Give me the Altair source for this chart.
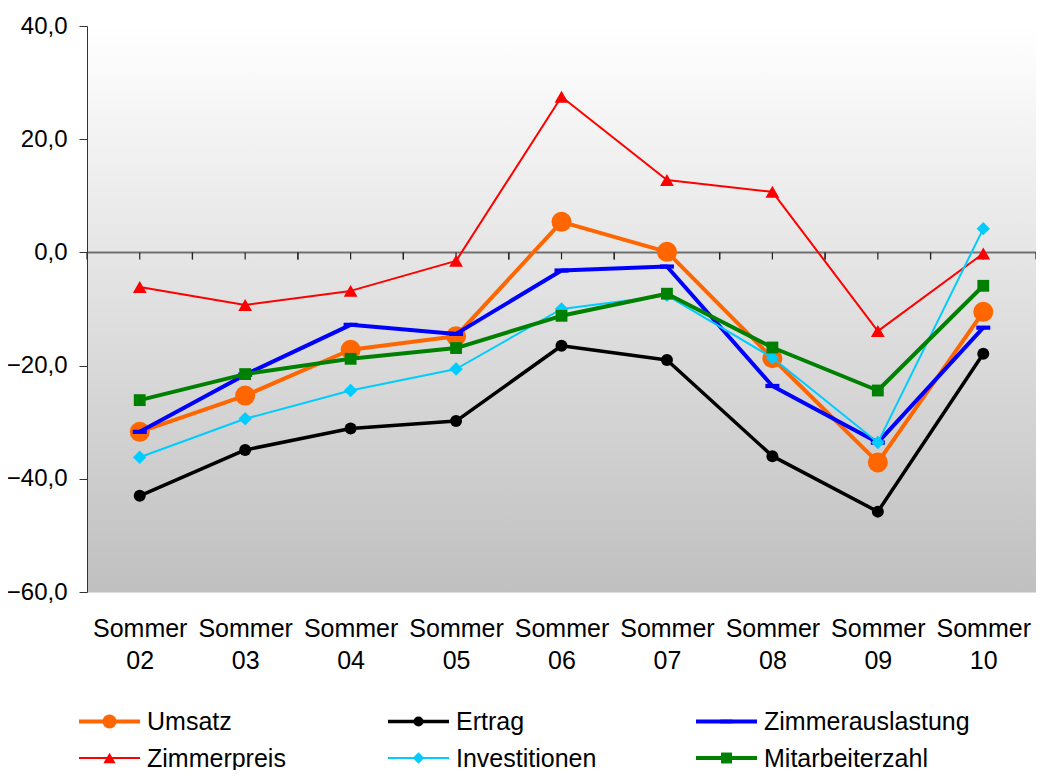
import altair as alt
import pandas as pd

categories = ["Sommer 02", "Sommer 03", "Sommer 04", "Sommer 05", "Sommer 06",
              "Sommer 07", "Sommer 08", "Sommer 09", "Sommer 10"]

series_names = ["Umsatz", "Ertrag", "Zimmerauslastung",
                "Zimmerpreis", "Investitionen", "Mitarbeiterzahl"]

umsatz = [-31.7, -25.3, -17.2, -14.8, 5.4, 0.1, -18.7, -37.1, -10.5]
ertrag = [-43.0, -34.9, -31.1, -29.8, -16.5, -19.0, -36.0, -45.8, -17.9]
zimmerauslastung = [-31.7, -21.6, -12.8, -14.4, -3.2, -2.5, -23.6, -33.6, -13.3]
zimmerpreis = [-6.1, -9.3, -6.8, -1.5, 27.5, 12.8, 10.7, -13.9, -0.2]
investitionen = [-36.2, -29.4, -24.4, -20.6, -10.0, -7.6, -18.6, -33.6, 4.2]
mitarbeiterzahl = [-26.1, -21.5, -18.8, -16.9, -11.2, -7.3, -16.8, -24.4, -5.9]

y_ticks = [-60, -40, -20, 0, 20, 40]

series_values = [umsatz, ertrag, zimmerauslastung, zimmerpreis, investitionen, mitarbeiterzahl]

W, H = 949, 566
Y_MIN, Y_MAX = -60, 40
FONT = "Liberation Sans"
DASH = "M-1,-0.3L1,-0.3L1,0.3L-1,0.3Z"

styles = {
    "Umsatz": dict(color="#FF6600", sw=4, shape="circle", size=400, lsize=196),
    "Ertrag": dict(color="#000000", sw=3.5, shape="circle", size=144, lsize=100),
    "Zimmerauslastung": dict(color="#0000FF", sw=4, shape=DASH, size=196, lsize=150),
    "Zimmerpreis": dict(color="#FF0000", sw=2, shape="triangle-up", size=190, lsize=150),
    "Investitionen": dict(color="#00CCFF", sw=2, shape="diamond", size=180, lsize=130),
    "Mitarbeiterzahl": dict(color="#008000", sw=4, shape="square", size=140, lsize=120),
}

x_axis = alt.Axis(title=None, domain=False, ticks=False, tickSize=0,
                  labelExpr="split(datum.label, ' ')", labelFont=FONT,
                  labelFontSize=25, labelColor="#000", labelPadding=24,
                  labelLineHeight=32, labelBaseline="top", labelAngle=0)
y_axis = alt.Axis(title=None, values=y_ticks, grid=False,
                  labelExpr="replace(format(datum.value, '.1f'), '.', ',')",
                  labelFont=FONT, labelFontSize=24, labelColor="#000",
                  tickSize=8, tickColor="#333", domainColor="#333",
                  labelPadding=12, zindex=1)

x_enc = alt.X("cat:N", sort=categories,
              scale=alt.Scale(type="point", padding=0.5), axis=x_axis)
y_scale = alt.Scale(domain=[Y_MIN, Y_MAX], nice=False, zero=False)
y_enc = alt.Y("val:Q", scale=y_scale, axis=y_axis)

one = pd.DataFrame({"a": [0]})

background = alt.Chart(one).mark_rect(
    fill=alt.LinearGradient(
        gradient="linear",
        stops=[alt.GradientStop(color="#ffffff", offset=0),
               alt.GradientStop(color="#c0c0c0", offset=1)],
        x1=0, x2=0, y1=0, y2=1),
).encode(x=alt.value(0), x2=alt.value(W), y=alt.value(0), y2=alt.value(H))

zero_df = pd.DataFrame({"val": [0]})
zero_line = alt.Chart(zero_df).mark_rule(color="#707070", strokeWidth=2).encode(
    y=y_enc, x=alt.value(0), x2=alt.value(W))

# small category tick marks hanging below the zero line (7 px long)
tick_len_units = 7 / H * (Y_MAX - Y_MIN)
tick_df = pd.DataFrame({"cat": categories,
                        "val": [0] * len(categories),
                        "val2": [-tick_len_units] * len(categories)})
half = W / len(categories) / 2
tick_layers = []
for off in (0, -half, half):
    tick_layers.append(
        alt.Chart(tick_df).mark_rule(color="#222", strokeWidth=1.2, xOffset=off)
        .encode(x=x_enc, y=y_enc, y2="val2:Q"))

series_layers = []
for name, vals in zip(series_names, series_values):
    st = styles[name]
    df = pd.DataFrame({"cat": categories, "val": vals})
    line = alt.Chart(df).mark_line(color=st["color"], strokeWidth=st["sw"],
                                   strokeJoin="round").encode(x=x_enc, y=y_enc)
    pts = alt.Chart(df).mark_point(shape=st["shape"], size=st["size"],
                                   filled=True, opacity=1, color=st["color"],
                                   strokeWidth=0).encode(x=x_enc, y=y_enc)
    series_layers += [line, pts]

# manual legend (3 columns, 2 rows) below the plot
legend_layers = []
col_x = [-8, 301, 609]
row_line_y = [695.5, 732]
for i, name in enumerate(series_names):
    st = styles[name]
    c, r = i % 3, i // 3
    x0 = col_x[c]
    ly = row_line_y[r]
    legend_layers.append(alt.Chart(one).mark_rule(
        color=st["color"], strokeWidth=max(st["sw"], 2)).encode(
        x=alt.value(x0), x2=alt.value(x0 + 61), y=alt.value(ly)))
    legend_layers.append(alt.Chart(one).mark_point(
        shape=st["shape"], size=st["lsize"], filled=True, opacity=1,
        color=st["color"], strokeWidth=0).encode(
        x=alt.value(x0 + 30.5), y=alt.value(ly)))
    legend_layers.append(alt.Chart(one).mark_text(
        align="left", baseline="alphabetic", font=FONT, fontSize=25,
        color="#000").encode(
        x=alt.value(x0 + 68), y=alt.value(ly + 8.5), text=alt.value(name)))

chart = alt.layer(background, zero_line, *tick_layers, *series_layers,
                  *legend_layers).properties(
    width=W, height=H,
    autosize=alt.AutoSizeParams(type="none"),
    padding={"left": 79, "top": 18, "right": 0, "bottom": 178},
).configure_view(stroke=None).configure(font=FONT)

chart.save("out.html", embed_options={"renderer": "svg", "actions": False})
